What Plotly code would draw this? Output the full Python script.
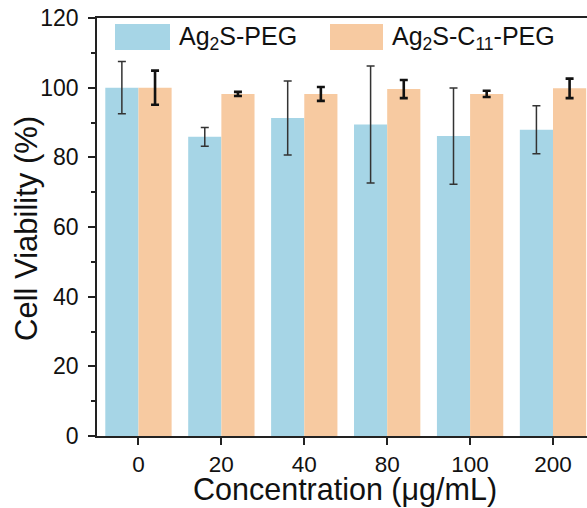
import plotly.graph_objects as go

categories = ["0", "20", "40", "80", "100", "200"]
peg_values = [100.0, 85.9, 91.3, 89.4, 86.1, 87.9]
peg_errors = [7.5, 2.7, 10.6, 16.8, 13.8, 6.9]
c11_values = [100.0, 98.2, 98.2, 99.6, 98.2, 99.8]
c11_errors = [4.9, 0.6, 2.0, 2.6, 0.9, 2.8]
series_names = ["Ag<sub>2</sub>S-PEG", "Ag<sub>2</sub>S-C<sub>11</sub>-PEG"]
y_ticks = [0, 20, 40, 60, 80, 100, 120]
x_title = "Concentration (μg/mL)"
y_title = "Cell Viability (%)"

BLUE = "#a6d5e6"
ORANGE = "#f7caa1"
FONT = "Liberation Sans, Arial, sans-serif"

xpos = list(range(len(categories)))

fig = go.Figure()
fig.add_trace(go.Bar(
    x=xpos, y=peg_values, name=series_names[0], marker=dict(color=BLUE, line=dict(width=0)),
    error_y=dict(type="data", array=peg_errors, visible=True, color="#333333", thickness=1.5, width=4),
))
fig.add_trace(go.Bar(
    x=xpos, y=c11_values, name=series_names[1], marker=dict(color=ORANGE, line=dict(width=0)),
    error_y=dict(type="data", array=c11_errors, visible=True, color="#111111", thickness=2.6, width=4),
))

W, H = 587, 508
ml, mr, mt, mb = 97, 0, 18, 72
pw, ph = W - ml - mr, H - mt - mb
def px_to_paper_x(px):
    return (px - ml) / pw
def px_to_paper_y(py):
    return 1 - (py - mt) / ph

legend_items = [(BLUE, series_names[0], 115, 170), (ORANGE, series_names[1], 330, 383)]
shapes = []
annotations = []
for color, label, x0, x1 in legend_items:
    shapes.append(dict(type="rect", xref="paper", yref="paper",
                       x0=px_to_paper_x(x0), x1=px_to_paper_x(x1),
                       y0=px_to_paper_y(50), y1=px_to_paper_y(24),
                       fillcolor=color, line=dict(width=0)))
    annotations.append(dict(xref="paper", yref="paper", x=px_to_paper_x(x1 + 7), y=px_to_paper_y(38),
                            xanchor="left", yanchor="middle", text=label, showarrow=False,
                            font=dict(size=25, color="#111", family=FONT)))

annotations.append(dict(xref="paper", yref="paper", x=px_to_paper_x(345), y=px_to_paper_y(508),
                        xanchor="center", yanchor="bottom", text=x_title, showarrow=False, borderpad=0,
                        font=dict(size=30.5, color="#111", family=FONT)))
annotations.append(dict(xref="paper", yref="paper", x=px_to_paper_x(26), y=px_to_paper_y(229),
                        xanchor="center", yanchor="middle", text=y_title, showarrow=False, textangle=-90,
                        font=dict(size=31, color="#111", family=FONT)))

fig.update_layout(
    width=W, height=H,
    margin=dict(l=ml, r=mr, t=mt, b=mb, pad=0),
    paper_bgcolor="white", plot_bgcolor="white",
    barmode="group", bargap=0.2, bargroupgap=0,
    showlegend=False,
    font=dict(family=FONT, color="#111"),
    shapes=shapes, annotations=annotations,
    xaxis=dict(
        range=[-0.5, 5.41], tickvals=xpos, ticktext=categories,
        showline=True, linecolor="#222", linewidth=1.5, mirror=True,
        ticks="outside", ticklen=7, tickwidth=1.5, tickcolor="#222",
        tickfont=dict(size=22.5, family=FONT, color="#111"), ticklabelstandoff=0,
        showgrid=False, zeroline=False,
    ),
    yaxis=dict(
        range=[0, 120], tickvals=y_ticks,
        showline=True, linecolor="#222", linewidth=1.5,
        ticks="outside", ticklen=7, tickwidth=1.5, tickcolor="#222",
        tickfont=dict(size=23, family=FONT, color="#111"), ticklabelstandoff=5,
        minor=dict(dtick=10, ticks="outside", ticklen=4, tickwidth=1.5, tickcolor="#222", showgrid=False),
        showgrid=False, zeroline=False,
    ),
)

fig.write_html("out.html", config={"displayModeBar": False},
               post_script="document.body.style.margin='0';document.body.style.padding='0';")
